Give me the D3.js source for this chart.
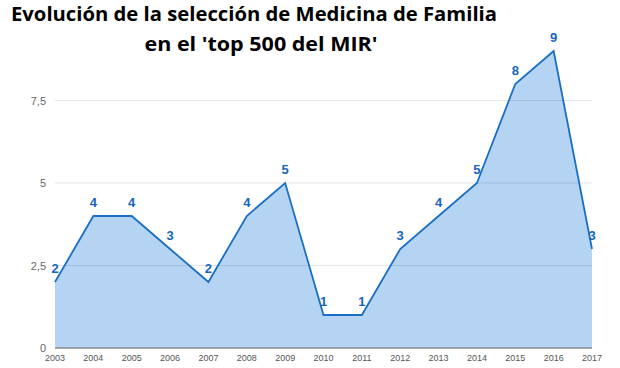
<!DOCTYPE html>
<html><head><meta charset="utf-8">
<script src="https://cdn.jsdelivr.net/npm/d3@7"></script>
<style>body{margin:0;background:#fff}svg{display:block}</style>
</head><body><svg id="c" width="620" height="368"></svg>
<script>
const titleLines = ["Evolución de la selección de Medicina de Familia", "en el 'top 500 del MIR'"];
const years = [2003,2004,2005,2006,2007,2008,2009,2010,2011,2012,2013,2014,2015,2016,2017];
const values = [2,4,4,3,2,4,5,1,1,3,4,5,8,9,3];
const yTicks = [0,2.5,5,7.5];
const yTickLabels = ["0","2,5","5","7,5"];

(function(){
const svg = d3.select("#c");
const pLeft = 55, pRight = 592, pTop = 51, pBottom = 348;
const x = d3.scalePoint().domain(years).range([pLeft, pRight]);
const y = d3.scaleLinear().domain([0, 9]).range([pBottom, pTop]);

const titlePos = [{cx:254, by:21, w:486},{cx:261, by:50.5, w:233}];
svg.selectAll("text.title").data(titleLines).enter().append("text")
  .attr("class","title")
  .attr("x", (d,i)=>titlePos[i].cx).attr("y", (d,i)=>titlePos[i].by)
  .attr("text-anchor","middle")
  .attr("textLength",(d,i)=>titlePos[i].w).attr("lengthAdjust","spacingAndGlyphs")
  .attr("font-family","Open Sans, sans-serif").attr("font-weight","700")
  .attr("font-size", 20).attr("fill","#000")
  .text(d=>d);

const data = years.map((yr,i)=>({yr, v: values[i]}));
svg.append("path").datum(data)
  .attr("d", d3.area().x(d=>x(d.yr)).y0(y(0)).y1(d=>y(d.v)))
  .attr("fill","#b5d4f4");

svg.selectAll("line.grid").data(yTicks.filter(t=>t>0)).enter().append("line")
  .attr("x1", pLeft).attr("x2", pRight)
  .attr("y1", d=>y(d)).attr("y2", d=>y(d))
  .attr("stroke","#000").attr("stroke-opacity",0.1).attr("stroke-width",1);

svg.append("line").attr("x1",pLeft).attr("x2",pRight).attr("y1",y(0)).attr("y2",y(0))
  .attr("stroke","#8a8a8a").attr("stroke-width",1.5);

svg.append("path").datum(data)
  .attr("d", d3.line().x(d=>x(d.yr)).y(d=>y(d.v)))
  .attr("fill","none").attr("stroke","#1a6fc4").attr("stroke-width",1.8);

svg.selectAll("text.yl").data(yTicks).enter().append("text")
  .attr("x", 46).attr("y", d=>y(d)+4)
  .attr("text-anchor","end")
  .attr("font-family","Liberation Sans, Arial, sans-serif").attr("font-size",11)
  .attr("fill","#666").text((d,i)=>yTickLabels[i]);

svg.selectAll("text.xl").data(years).enter().append("text")
  .attr("x", d=>x(d)).attr("y", 361)
  .attr("text-anchor","middle")
  .attr("font-family","Liberation Sans, Arial, sans-serif").attr("font-size",9)
  .attr("fill","#555").text(d=>d);

svg.selectAll("text.dl").data(data).enter().append("text")
  .attr("x", d=>x(d.yr)).attr("y", d=>y(d.v)-9)
  .attr("text-anchor","middle")
  .attr("font-family","Liberation Sans, Arial, sans-serif").attr("font-weight","bold")
  .attr("font-size",13).attr("fill","#1565c0").text(d=>d.v);
})();
</script></body></html>
